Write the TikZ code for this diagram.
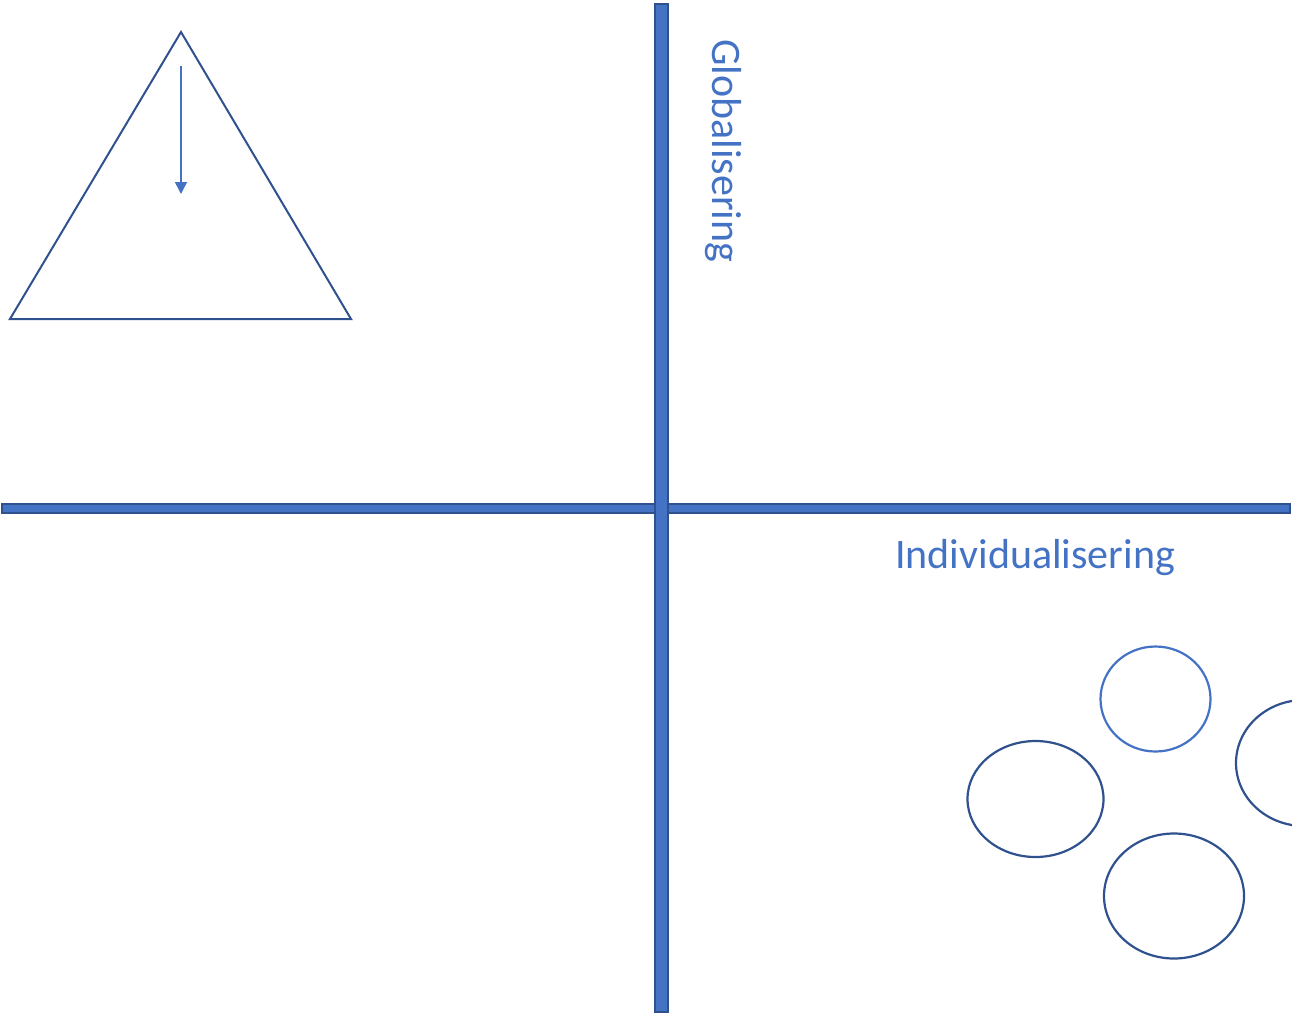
\documentclass[tikz,border=0pt]{standalone}
\usepackage{fontspec}
\setmainfont{Carlito}
\usetikzlibrary{arrows.meta}
\definecolor{accent}{HTML}{4472C4}
\definecolor{accentdark}{HTML}{2F528F}
\tikzset{
  bar/.style={fill=accent, draw=accentdark, line width=2pt},
  outline/.style={draw=accentdark, line width=2pt},
  lbl/.style={text=accent, font=\fontsize{42}{50}\selectfont, inner sep=0pt},
  ring/.style={draw=accentdark, line width=2.2pt},
}
\begin{document}
\begin{tikzpicture}[x=1pt,y=-1pt]
\useasboundingbox (0,0) rectangle (1292,1015);
% triangle
\draw[outline, line join=miter] (181,32) -- (351,319) -- (10,319) -- cycle;
\coordinate (arrs) at (181,66);
\coordinate (arre) at (181,194);
\draw[accent, line width=1.5pt, -{Triangle[width=12pt,length=12pt]}] (arrs) -- (arre);
% axes
\draw[bar] (2,503.5) rectangle (1290,512.5);
\draw[bar] (655,4) rectangle (668,1012);
% labels
\node[lbl, rotate=-90, anchor=base west] (glob) at (712,39) {Globalisering};
\node[lbl, anchor=base west] (indiv) at (895,568) {Individualisering};
% circles
\begin{scope}
\clip (0,0) rectangle (1292,1015);
\draw[ring, draw=accent] (1155.5,699) ellipse [x radius=55, y radius=52.5];
\draw[ring] (1304,763) ellipse [x radius=68, y radius=63];
\draw[ring] (1035.5,799) ellipse [x radius=68, y radius=58];
\draw[ring] (1174,896) ellipse [x radius=70, y radius=62.5];
\end{scope}
\end{tikzpicture}
\end{document}
